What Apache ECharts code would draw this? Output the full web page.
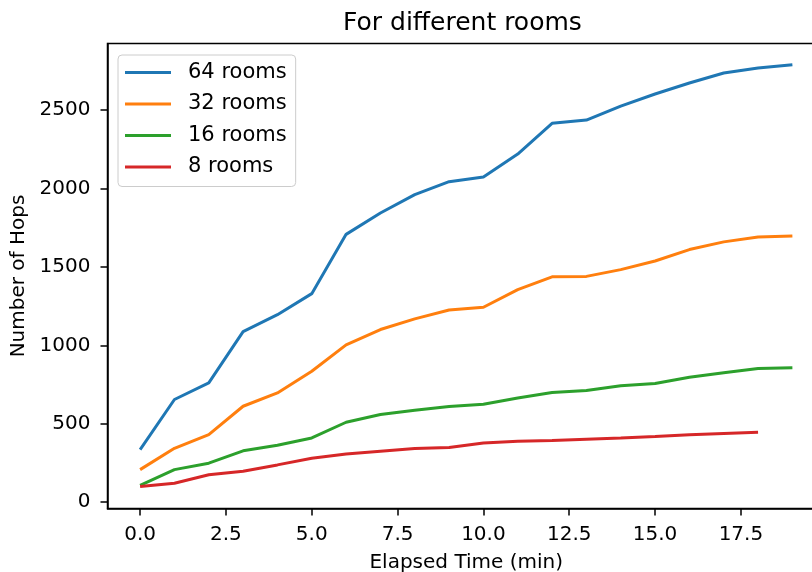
<!DOCTYPE html>
<html>
<head>
<meta charset="utf-8">
<script src="https://cdn.jsdelivr.net/npm/echarts@6/dist/echarts.min.js"></script>
<style>html,body{margin:0;padding:0;background:#fff;}#c{width:812px;height:572px;}</style>
</head>
<body>
<div id="c"></div>
<script>
const times = [0,1,2,3,4,5,6,7,8,9,10,11,12,13,14,15,16,17,18,19];
const rooms64 = [336,655,761,1088,1196,1330,1708,1844,1961,2044,2074,2220,2416,2437,2526,2603,2673,2737,2769,2790];
const rooms32 = [208,344,431,612,697,835,1003,1101,1169,1226,1243,1356,1437,1440,1483,1538,1611,1660,1691,1698];
const rooms16 = [108,208,249,328,363,410,510,559,587,610,625,665,699,712,742,757,797,825,852,857];
const rooms8  = [100,121,175,198,238,281,308,325,342,349,378,389,393,402,410,419,430,438,446];
const seriesNames = ['64 rooms','32 rooms','16 rooms','8 rooms'];
const xTicks = [0,2.5,5,7.5,10,12.5,15,17.5];
const yTicks = [0,500,1000,1500,2000,2500];
const colors = ['#1f77b4','#ff7f0e','#2ca02c','#d62728'];

const font = 'DejaVu Sans';
const allData = [rooms64, rooms32, rooms16, rooms8];
const chart = echarts.init(document.getElementById('c'));
chart.setOption({
  animation: false,
  color: colors,
  title: {
    text: 'For different rooms',
    left: 343, top: 11, padding: 0,
    textStyle: {fontFamily: font, fontSize: 25, fontWeight: 'normal', color: '#000'}
  },
  legend: {
    orient: 'vertical', left: 118, top: 55,
    data: seriesNames,
    icon: 'rect',
    itemWidth: 46, itemHeight: 3, itemGap: 10.5,
    padding: [7, 9, 9, 7],
    backgroundColor: '#fff', borderColor: '#cccccc', borderWidth: 1, borderRadius: 4,
    textStyle: {fontFamily: font, fontSize: 21, lineHeight: 20, color: '#000', padding: [0,0,0,12]}
  },
  grid: {
    left: 107.5, top: 43.5, width: 717.5, height: 465,
    outerBoundsMode: 'none', containLabel: false,
    show: true, borderColor: '#000', borderWidth: 1.5, backgroundColor: 'transparent'
  },
  xAxis: {
    type: 'value', min: -0.95, max: 19.95,
    name: 'Elapsed Time (min)', nameLocation: 'middle', nameGap: 44,
    nameTextStyle: {fontFamily: font, fontSize: 20, color: '#000'},
    axisLine: {show: true, onZero: false, lineStyle: {color: '#000', width: 1.5}},
    axisTick: {show: true, length: 7, lineStyle: {color: '#000', width: 1.5}, customValues: xTicks},
    axisLabel: {fontFamily: font, fontSize: 20, color: '#000', margin: 16, customValues: xTicks,
      formatter: v => v.toFixed(1)},
    splitLine: {show: false}
  },
  yAxis: {
    type: 'value', min: -40, max: 2925,
    name: 'Number of Hops', nameLocation: 'middle', nameGap: 79,
    nameTextStyle: {fontFamily: font, fontSize: 20, color: '#000'},
    axisLine: {show: true, onZero: false, lineStyle: {color: '#000', width: 1.5}},
    axisTick: {show: true, length: 7, lineStyle: {color: '#000', width: 1.5}, customValues: yTicks},
    axisLabel: {fontFamily: font, fontSize: 20, color: '#000', margin: 17, customValues: yTicks,
      formatter: v => String(v)},
    splitLine: {show: false}
  },
  series: seriesNames.map((n, i) => ({
    name: n, type: 'line', symbol: 'none', showSymbol: false,
    lineStyle: {width: 3, color: colors[i]},
    itemStyle: {color: colors[i]},
    data: allData[i].map((v, j) => [times[j], v])
  }))
});
</script>
</body>
</html>
